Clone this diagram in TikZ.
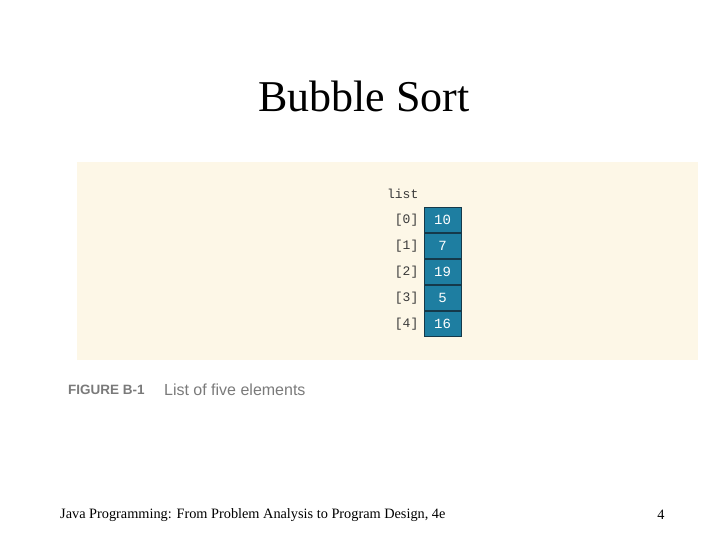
\documentclass[tikz,border=0pt]{standalone}
\usepackage{fontspec}
\setmainfont{Liberation Serif}
\setsansfont{Liberation Sans}
\setmonofont{Liberation Mono}
\usetikzlibrary{positioning}
\definecolor{panel}{HTML}{FDF7E7}
\definecolor{cellblue}{HTML}{1E7EA1}
\definecolor{cellline}{HTML}{15394A}
\definecolor{labelgray}{HTML}{3A3A3A}
\definecolor{capgray}{HTML}{7A7A7A}
\tikzset{
  cell/.style={draw=cellline, line width=1pt, fill=cellblue, text=white,
    minimum width=37pt, minimum height=25pt, inner sep=0pt,
    font=\ttfamily\fontsize{14}{14}\selectfont},
  idx/.style={text=labelgray, inner sep=0pt, font=\ttfamily\fontsize{13}{13}\selectfont}
}
\begin{document}
\begin{tikzpicture}[x=1pt, y=-1pt]
    \useasboundingbox (0, 0) rectangle (728, 546);
    \fill[panel] (77, 162) rectangle (698, 360);
    \node[font=\fontsize{44}{44}\selectfont] (title) at (364, 96) {Bubble Sort};
    % the array cells
    \node[cell] (c0) at (442.5, 220) {10};
    \node[cell, below=0pt of c0] (c1) {7};
    \node[cell, below=0pt of c1] (c2) {19};
    \node[cell, below=0pt of c2] (c3) {5};
    \node[cell, below=0pt of c3] (c4) {16};
    \node[idx, left=5pt of c0] (i0) {[0]};
    \node[idx, left=5pt of c1] (i1) {[1]};
    \node[idx, left=5pt of c2] (i2) {[2]};
    \node[idx, left=5pt of c3] (i3) {[3]};
    \node[idx, left=5pt of c4] (i4) {[4]};
    \node[idx, anchor=east] (lst) at (i0.east |- 0, 194) {list};
    % caption
    \node[anchor=west, text=capgray, inner sep=0pt, font=\sffamily\bfseries\fontsize{13.5}{13.5}\selectfont] (fig) at (68, 390) {FIGURE B-1};
    \node[right=19pt of fig, text=capgray, inner sep=0pt, font=\sffamily\fontsize{16}{16}\selectfont] (cap) {List of five elements};
    % footer
    \node[anchor=west, inner sep=0pt, font=\fontsize{14.3}{14.3}\selectfont] (foot) at (60, 515) {Java Programming: From Problem Analysis to Program Design, 4e};
    \node[inner sep=0pt, font=\fontsize{14.3}{14.3}\selectfont] (page) at (661, 515) {4};
\end{tikzpicture}
\end{document}
